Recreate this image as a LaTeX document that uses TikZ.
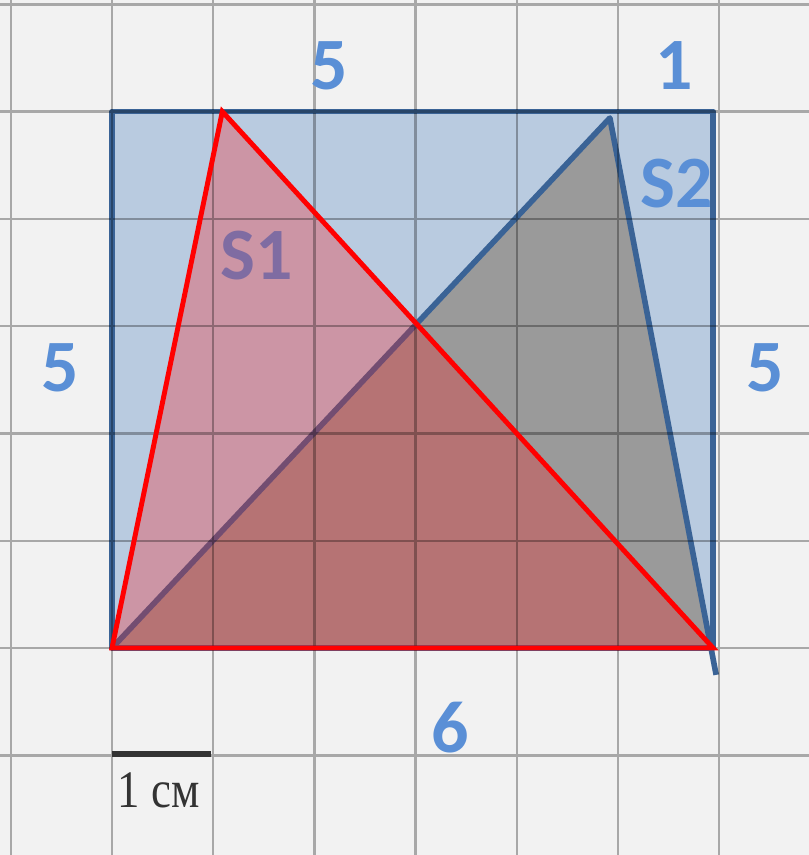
\documentclass[tikz,border=0pt]{standalone}
\usepackage{fontspec}
\setmainfont{Carlito}
\newfontfamily\cmfont{Liberation Serif}
\definecolor{paper}{HTML}{F2F2F2}
\definecolor{rectfill}{HTML}{B9CBE0}
\definecolor{rectline}{HTML}{3A6396}
\definecolor{trifill}{HTML}{9A9A9A}
\definecolor{redfill}{RGB}{248,27,30}
\definecolor{labelblue}{HTML}{5A8FD6}
\definecolor{sonecol}{HTML}{7F6CA2}
\tikzset{
  gridline/.style={black,opacity=0.3,line width=0.7pt},
  blueedge/.style={rectline,line width=1.6pt,line join=round},
  rededge/.style={red,line width=1.4pt,line join=miter},
  lbl/.style={text=labelblue,font=\bfseries\fontsize{21}{25}\selectfont},
}
\begin{document}
\begin{tikzpicture}[x=1.012cm,y=1.073cm]
  \useasboundingbox (-1.107,-1.929) rectangle (6.887,6.04);
  \fill[paper] (-1.107,-1.929) rectangle (6.887,6.04);
  \coordinate (A) at (0,0);
  \coordinate (B) at (5.94,0);
  \coordinate (C) at (5.94,5);
  \coordinate (D) at (0,5);
  \coordinate (P) at (4.92,4.94);
  \coordinate (Q) at (1.09,5);
  \coordinate (Ppt) at (5.97,-0.25);
  \fill[rectfill] (A) rectangle (C);
  \fill[trifill] (A) -- (P) -- (B) -- cycle;
  \draw[blueedge] (A) rectangle (C);
  \draw[blueedge] (A) -- (P) -- (Ppt);
  \fill[redfill,opacity=0.3] (A) -- (Q) -- (B) -- cycle;
  \draw[gridline,step={(1,1)}] (-1.107,-1.929) grid (6.887,6.04);
  \draw[rededge] (A) -- (Q) -- (B) -- cycle;
  % labels
  \node[lbl] (top5) at (2.15,5.43) {5};
  \node[lbl] (top1) at (5.56,5.43) {1};
  \node[lbl] (left5) at (-0.51,2.61) {5};
  \node[lbl] (right5) at (6.45,2.61) {5};
  \node[lbl] (base6) at (3.34,-0.74) {6};
  \node[lbl,text=sonecol] (sone) at (1.43,3.66) {S1};
  \node[lbl] (stwo) at (5.58,4.33) {S2};
  % 1 cm
  \coordinate (cm0) at (0,-0.99);
  \coordinate (cm1) at (0.98,-0.99);
  \draw[black!80,line width=1.6pt] (cm0) -- (cm1);
  \node[text=black!80,font=\cmfont\fontsize{15}{18}\selectfont,xscale=0.85] (unit) at (0.46,-1.33) {1 см};
\end{tikzpicture}
\end{document}
